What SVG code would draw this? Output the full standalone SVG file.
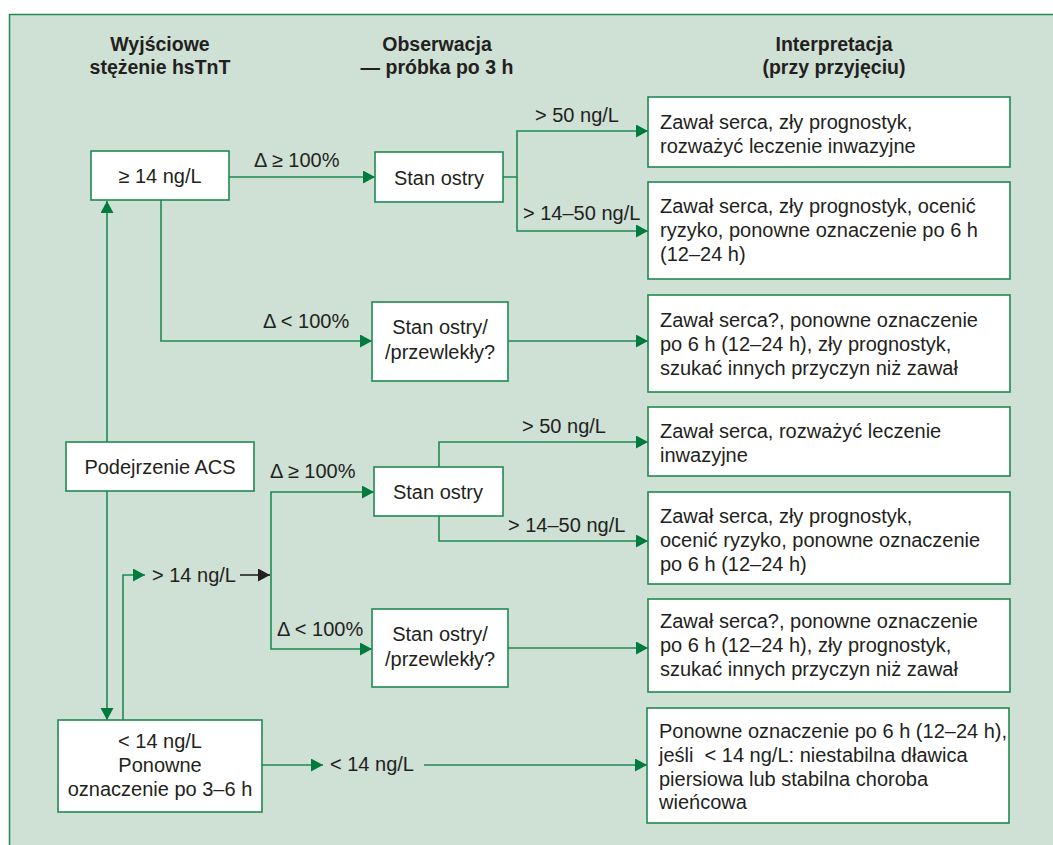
<svg xmlns="http://www.w3.org/2000/svg" width="1053" height="845" viewBox="0 0 1053 845">
<defs>
<style>
.bg{fill:#cfe0d5;stroke:#1f8a50;stroke-width:1.5}
.box{fill:#ffffff;stroke:#1f8a50;stroke-width:1.6}
.t{font-family:"Liberation Sans",Arial,sans-serif;font-size:20px;fill:#231f20}
.c{text-anchor:middle}
.h{font-family:"Liberation Sans",Arial,sans-serif;font-size:19.5px;font-weight:bold;fill:#231f20;text-anchor:middle}
.ln{fill:none;stroke:#1f8a50;stroke-width:1.6}
.lk{fill:none;stroke:#231f20;stroke-width:1.6}
</style>
<marker id="ag" markerUnits="userSpaceOnUse" markerWidth="13" markerHeight="14" refX="12" refY="6.5" orient="auto">
<path d="M0,0 L12,6.5 L0,13 z" fill="#007a3d"/>
</marker>
<marker id="ak" markerUnits="userSpaceOnUse" markerWidth="13" markerHeight="14" refX="12" refY="6.5" orient="auto">
<path d="M0,0 L12,6.5 L0,13 z" fill="#231f20"/>
</marker>
</defs>
<rect x="0" y="0" width="1053" height="845" fill="#ffffff"/>
<rect class="bg" x="9.5" y="14.5" width="1060" height="850"/>

<g id="headers">
<text class="h" x="160" y="51">Wyjściowe</text>
<text class="h" x="160" y="74">stężenie hsTnT</text>
<text class="h" x="437" y="51">Obserwacja</text>
<text class="h" x="437" y="74">— próbka po 3 h</text>
<text class="h" x="834" y="51">Interpretacja</text>
<text class="h" x="834" y="74">(przy przyjęciu)</text>
</g>

<g id="connectors">
<path class="ln" d="M107,442 V201" marker-end="url(#ag)"/>
<path class="ln" d="M229,177 H375" marker-end="url(#ag)"/>
<path class="ln" d="M503,177 H517 V131 H648" marker-end="url(#ag)"/>
<path class="ln" d="M517,177 V231 H648" marker-end="url(#ag)"/>
<path class="ln" d="M161,200 V341 H372" marker-end="url(#ag)"/>
<path class="ln" d="M508,341 H648" marker-end="url(#ag)"/>
<path class="ln" d="M107,491 V720" marker-end="url(#ag)"/>
<path class="ln" d="M123,720 V575 H145" marker-end="url(#ag)"/>
<path class="lk" d="M240,575 H270" marker-end="url(#ak)"/>
<path class="ln" d="M271,575 V492 H374" marker-end="url(#ag)"/>
<path class="ln" d="M271,575 V649 H372" marker-end="url(#ag)"/>
<path class="ln" d="M439,467 V442 H648" marker-end="url(#ag)"/>
<path class="ln" d="M439,516 V541 H648" marker-end="url(#ag)"/>
<path class="ln" d="M508,648 H648" marker-end="url(#ag)"/>
<path class="ln" d="M262,765 H323" marker-end="url(#ag)"/>
<path class="ln" d="M424,765 H647" marker-end="url(#ag)"/>
<text class="t" x="254" y="167">Δ ≥ 100%</text>
<text class="t" x="535" y="122">&gt; 50 ng/L</text>
<text class="t" x="523" y="220">&gt; 14–50 ng/L</text>
<text class="t" x="263" y="328">Δ &lt; 100%</text>
<text class="t" x="152" y="582">&gt; 14 ng/L</text>
<text class="t" x="270" y="478">Δ ≥ 100%</text>
<text class="t" x="277" y="636">Δ &lt; 100%</text>
<text class="t" x="522" y="433">&gt; 50 ng/L</text>
<text class="t" x="508" y="532">&gt; 14–50 ng/L</text>
<text class="t" x="330" y="771">&lt; 14 ng/L</text>
</g>

<g id="n-high">
<rect class="box" x="91" y="151" width="138" height="49"/>
<text class="t c" x="160" y="183">≥ 14 ng/L</text>
</g>
<g id="n-acs">
<rect class="box" x="66" y="442" width="188" height="49"/>
<text class="t c" x="160" y="474">Podejrzenie ACS</text>
</g>
<g id="n-low">
<rect class="box" x="58" y="720" width="204" height="92"/>
<text class="t c" x="160" y="748">&lt; 14 ng/L</text>
<text class="t c" x="160" y="772">Ponowne</text>
<text class="t c" x="160" y="796">oznaczenie po 3–6 h</text>
</g>
<g id="n-acute1">
<rect class="box" x="375" y="152" width="128" height="50"/>
<text class="t c" x="439" y="185">Stan ostry</text>
</g>
<g id="n-chronic1">
<rect class="box" x="372" y="302" width="136" height="79"/>
<text class="t c" x="440" y="334">Stan ostry/</text>
<text class="t c" x="440" y="359">/przewlekły?</text>
</g>
<g id="n-acute2">
<rect class="box" x="374" y="467" width="129" height="49"/>
<text class="t c" x="438" y="499">Stan ostry</text>
</g>
<g id="n-chronic2">
<rect class="box" x="372" y="609" width="136" height="78"/>
<text class="t c" x="440" y="641">Stan ostry/</text>
<text class="t c" x="440" y="666">/przewlekły?</text>
</g>

<g id="r1">
<rect class="box" x="648" y="97" width="362" height="70"/>
<text class="t" x="660" y="129">Zawał serca, zły prognostyk,</text>
<text class="t" x="660" y="153">rozważyć leczenie inwazyjne</text>
</g>
<g id="r2">
<rect class="box" x="648" y="182" width="362" height="97"/>
<text class="t" x="660" y="213">Zawał serca, zły prognostyk, ocenić</text>
<text class="t" x="660" y="237">ryzyko, ponowne oznaczenie po 6 h</text>
<text class="t" x="660" y="261">(12–24 h)</text>
</g>
<g id="r3">
<rect class="box" x="648" y="295" width="362" height="97"/>
<text class="t" x="660" y="327">Zawał serca?, ponowne oznaczenie</text>
<text class="t" x="660" y="351">po 6 h (12–24 h), zły prognostyk,</text>
<text class="t" x="660" y="375">szukać innych przyczyn niż zawał</text>
</g>
<g id="r4">
<rect class="box" x="648" y="407" width="362" height="69"/>
<text class="t" x="660" y="438">Zawał serca, rozważyć leczenie</text>
<text class="t" x="660" y="462">inwazyjne</text>
</g>
<g id="r5">
<rect class="box" x="648" y="492" width="362" height="92"/>
<text class="t" x="660" y="523">Zawał serca, zły prognostyk,</text>
<text class="t" x="660" y="547">ocenić ryzyko, ponowne oznaczenie</text>
<text class="t" x="660" y="571">po 6 h (12–24 h)</text>
</g>
<g id="r6">
<rect class="box" x="648" y="599" width="362" height="93"/>
<text class="t" x="660" y="628">Zawał serca?, ponowne oznaczenie</text>
<text class="t" x="660" y="652">po 6 h (12–24 h), zły prognostyk,</text>
<text class="t" x="660" y="676">szukać innych przyczyn niż zawał</text>
</g>
<g id="r7">
<rect class="box" x="647" y="708" width="362" height="115"/>
<text class="t" x="659" y="738">Ponowne oznaczenie po 6 h (12–24 h),</text>
<text class="t" x="659" y="762" xml:space="preserve">jeśli  &lt; 14 ng/L: niestabilna dławica</text>
<text class="t" x="659" y="786">piersiowa lub stabilna choroba</text>
<text class="t" x="659" y="809">wieńcowa</text>
</g>
</svg>
